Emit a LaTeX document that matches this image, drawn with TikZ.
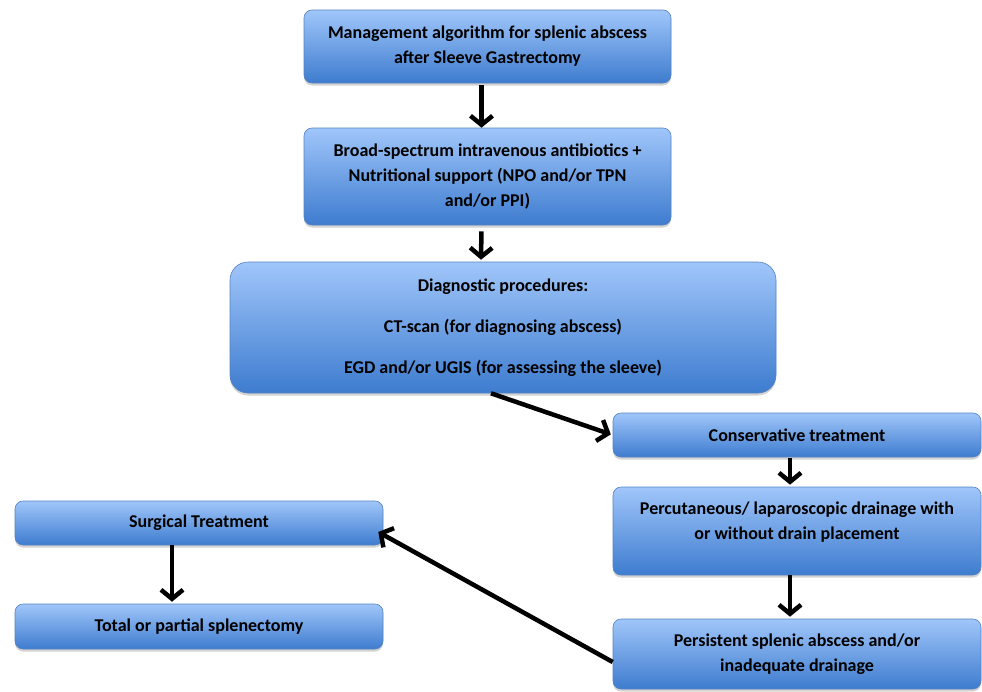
\documentclass[tikz,border=0pt]{standalone}
\usepackage{fontspec}
\setmainfont{Carlito}
\usetikzlibrary{arrows.meta,shadows}
\definecolor{boxtop}{RGB}{160,198,250}
\definecolor{boxbottom}{RGB}{62,124,207}
\definecolor{boxline}{RGB}{84,130,195}
\begin{document}
\begin{tikzpicture}[
    x=1pt, y=-1pt,
    stepbox/.style={draw=boxline, line width=0.6pt, rounded corners=8pt,
      top color=boxtop, bottom color=boxbottom,
      drop shadow={shadow xshift=0pt, shadow yshift=-2.5pt, opacity=0.35},
      font=\fontsize{18}{25}\selectfont\bfseries, align=center, inner sep=0pt},
    flow/.style={line width=4.5pt, -{Straight Barb[length=9pt,width=22pt]}}
    ]
    \useasboundingbox (0,0) rectangle (982,691);

    \node[stepbox, minimum width=367pt, minimum height=73pt] (title) at (487.5,46.5)
      {Management algorithm for splenic abscess\\ after Sleeve Gastrectomy};
    \node[stepbox, minimum width=367pt, minimum height=97pt] (anti) at (487.5,176.5)
      {Broad-spectrum intravenous antibiotics +\\ Nutritional support (NPO and/or TPN\\ and/or PPI)};
    \node[stepbox, rounded corners=18pt, minimum width=546pt, minimum height=131pt] (diag) at (503,327.5)
      {Diagnostic procedures:\\[16pt] CT-scan (for diagnosing abscess)\\[16pt] EGD and/or UGIS (for assessing the sleeve)};
    \node[stepbox, minimum width=368pt, minimum height=44pt] (cons) at (797,435)
      {Conservative treatment};
    \node[stepbox, minimum width=368pt, minimum height=88pt] (drain) at (797,531)
      {Percutaneous/ laparoscopic drainage with\\ or without drain placement\\[-4pt]\mbox{}};
    \node[stepbox, minimum width=368pt, minimum height=70pt] (pers) at (797,654)
      {Persistent splenic abscess and/or\\ inadequate drainage};
    \node[stepbox, minimum width=368pt, minimum height=44pt] (surg) at (199,523)
      {Surgical Treatment};
    \node[stepbox, minimum width=368pt, minimum height=45pt] (total) at (199,626.5)
      {Total or partial splenectomy};

    \draw[flow, shorten <=2pt] ([xshift=-6pt]title.south) -- ([xshift=-6pt]anti.north);
    \draw[flow, shorten <=6pt, shorten >=2pt] ([xshift=-6pt]anti.south) -- ([xshift=-22pt]diag.north);
    \draw[flow, shorten >=2pt] ([xshift=-12pt]diag.south) -- (cons.west);
    \draw[flow, shorten <=1pt, shorten >=2pt] ([xshift=-7pt]cons.south) -- ([xshift=-7pt]drain.north);
    \draw[flow, shorten >=2pt] ([xshift=-7pt]drain.south) -- ([xshift=-7pt]pers.north);
    \draw[flow] ([yshift=-8pt]pers.west) -- ([xshift=-5pt,yshift=-9pt]surg.east);
    \draw[flow, shorten >=2pt] ([xshift=-27pt]surg.south) -- ([xshift=-27pt]total.north);

\end{tikzpicture}
\end{document}
